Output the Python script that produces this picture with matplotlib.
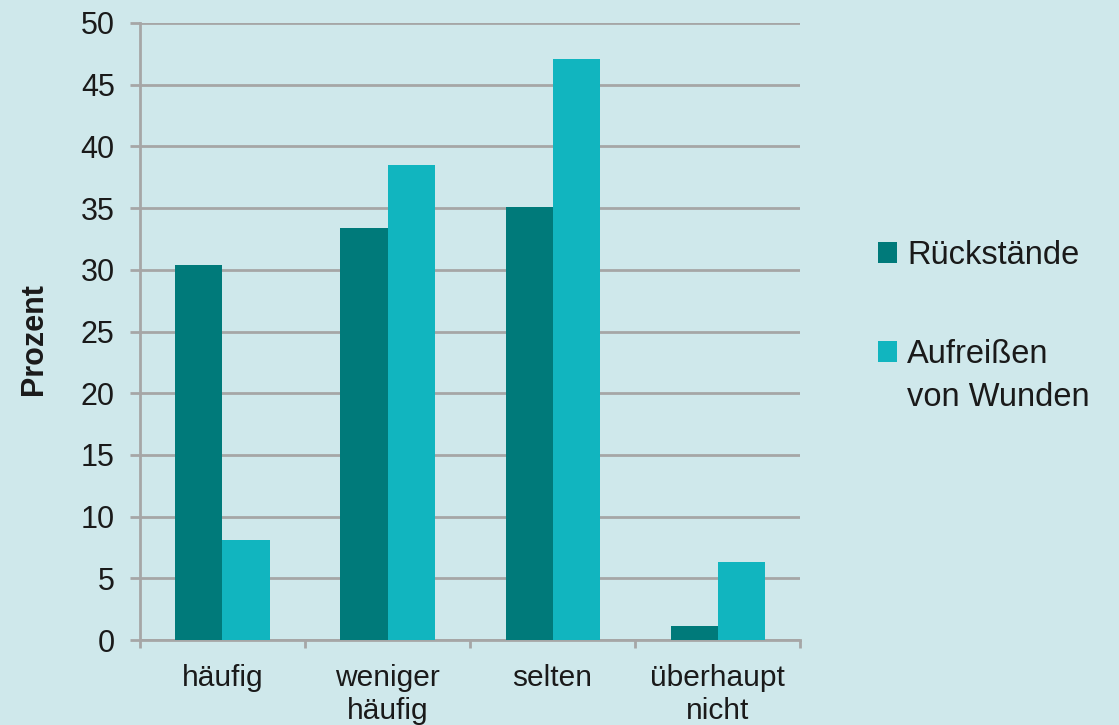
import numpy as np
from matplotlib import pyplot as plt
from matplotlib.ticker import FixedLocator
from matplotlib.patches import Rectangle
from matplotlib.legend_handler import HandlerPatch, update_from_first_child

categories = ['häufig', 'weniger\nhäufig', 'selten', 'überhaupt\nnicht']
rueckstaende = [30.4, 33.4, 35.1, 1.1]
aufreissen = [8.1, 38.5, 47.1, 6.3]
series_labels = ['Rückstände', 'Aufreißen\nvon Wunden']
yticks = list(range(0, 55, 5))

bg = '#cfe8eb'
grid_col = '#a6a6a6'
dark = '#007a7a'
light = '#11b5bf'
txt = '#1a1a1a'

plt.rcParams['font.family'] = ['Liberation Sans', 'DejaVu Sans']

fig = plt.figure(figsize=(11.19, 7.25), dpi=100, facecolor=bg)
ax = fig.add_axes([0.1251, 0.1172, 0.715 - 0.1251, 0.9683 - 0.1172])
ax.set_facecolor(bg)

x = np.arange(len(categories))
w = 0.285
b1 = ax.bar(x - w / 2, rueckstaende, w, color=dark, label=series_labels[0], zorder=3)
b2 = ax.bar(x + w / 2, aufreissen, w, color=light, label=series_labels[1], zorder=3)

ax.set_xlim(-0.5, len(categories) - 0.5)
ax.set_ylim(0, 50)
ax.set_yticks(yticks)
ax.yaxis.grid(True, color=grid_col, linewidth=2, zorder=0)
ax.set_axisbelow(True)

ax.set_xticks(x)
ax.set_xticklabels(categories, fontsize=21.5, color=txt, linespacing=1.2)
ax.xaxis.set_minor_locator(FixedLocator(np.arange(-0.5, len(categories), 1.0)))
ax.tick_params(axis='x', which='major', length=0, pad=17.5)
ax.tick_params(axis='x', which='minor', length=6, width=2, color=grid_col)
ax.tick_params(axis='y', length=7.2, width=2, color=grid_col, labelsize=22,
               labelcolor=txt, pad=11)

for s in ['top', 'right']:
    ax.spines[s].set_visible(False)
for s in ['left', 'bottom']:
    ax.spines[s].set_color(grid_col)
    ax.spines[s].set_linewidth(2)

ax.set_ylabel('Prozent', fontsize=22, fontweight='bold', color=txt)
ax.yaxis.set_label_coords(-0.138, 0.488)

fs = 23.5

# move the second square up so it sits beside the first line of its label
def raised_square(legend, orig_handle, xdescent, ydescent, width, height, fontsize):
    return Rectangle((-xdescent, -ydescent + 0.75 * fontsize), width, height)

leg = ax.legend(loc='upper left', bbox_to_anchor=(0.7846, 0.669), bbox_transform=fig.transFigure,
                frameon=False, fontsize=fs, handlelength=0.58, handleheight=0.58,
                handletextpad=0.31, labelspacing=2.07, borderaxespad=0, borderpad=0,
                handler_map={b2: HandlerPatch(patch_func=raised_square,
                                              update_func=update_from_first_child)})
for t in leg.get_texts():
    t.set_color(txt)
    t.set_linespacing(1.5)

plt.savefig('out.png', dpi=100, facecolor=bg)
